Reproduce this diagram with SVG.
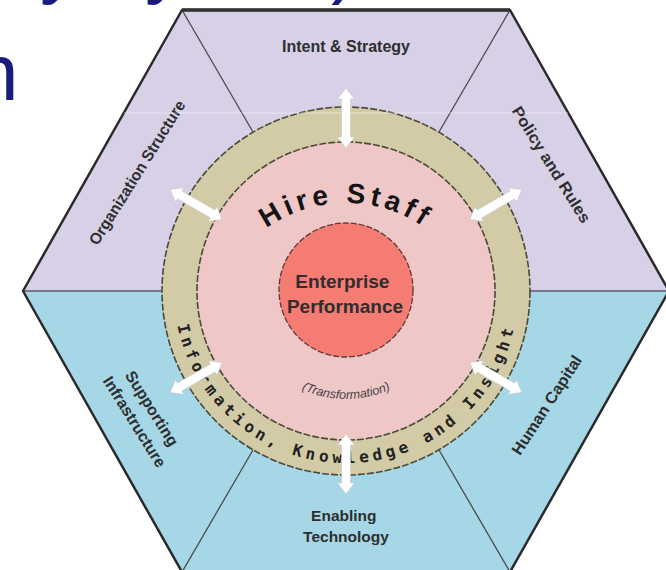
<svg xmlns="http://www.w3.org/2000/svg" width="666" height="570" viewBox="0 0 666 570">
<defs>
<style>
.lbl{font-family:"Liberation Sans",Arial,sans-serif;font-weight:bold;fill:#2e2e2e;}
.div{stroke:#4a4a4a;stroke-width:1.3;fill:none;}
.title{font-family:"Liberation Sans",Arial,sans-serif;fill:#1b1b7e;font-size:80px;}
.edge{stroke:#4a4a3a;stroke-width:1.6;stroke-dasharray:7 2;}
.tan{fill:#d3cba6;}
.pink{fill:#f0c7c7;}
.arr{fill:#ffffff;stroke:#c8c8c8;stroke-width:0.6;}
</style>
<path id="arcHire" d="M 249.1 243.1 A 137 137 0 0 1 442.9 243.1"/>
<path id="arcInfo" d="M 184.4 232.2 A 172 172 0 1 0 507.6 232.2"/>
<path id="arcTrans" d="M 252.5 345 A 108 108 0 0 0 439.5 345"/>
<polygon id="arrow" points="-30,0 -19,-8.5 -19,-4.5 19,-4.5 19,-8.5 30,0 19,8.5 19,4.5 -19,4.5 -19,8.5"/>
</defs>

<g id="title-fragments">
<text class="title" y="-12"><tspan x="40">y</tspan><tspan x="145">y</tspan><tspan x="331">)</tspan></text>
<text class="title" x="-26" y="100">n</text>
</g>

<g id="hexagon">
<polygon points="23,291 182,10 510,10 669,291" fill="#d7d0e7"/>
<polygon points="23,291 669,291 510,572 182,572" fill="#a6d7e7"/>
<line x1="23" y1="291" x2="162" y2="291" stroke="#5a5a6a" stroke-width="1.5"/>
<line x1="530" y1="291" x2="669" y2="291" stroke="#5a5a6a" stroke-width="1.5"/>
<line class="div" x1="182" y1="10" x2="253" y2="132"/>
<line class="div" x1="510" y1="10" x2="439" y2="132"/>
<line class="div" x1="182" y1="572" x2="253" y2="450"/>
<line class="div" x1="510" y1="572" x2="439" y2="450"/>
<polyline points="182,572 23,291 182,10 510,10 669,291 510,572" fill="none" stroke="#2a2a2a" stroke-width="2.5" stroke-linejoin="round"/>
<line x1="182" y1="10" x2="510" y2="10" stroke="#333" stroke-width="3.5"/>
</g>

<g id="seg-intent">
<text class="lbl" x="346" y="51.5" font-size="16" text-anchor="middle" textLength="128" lengthAdjust="spacingAndGlyphs">Intent &amp; Strategy</text>
</g>
<g id="seg-policy">
<text class="lbl" font-size="16" text-anchor="middle" transform="translate(551.5 164.5) rotate(58)" y="5.7" textLength="134" lengthAdjust="spacingAndGlyphs">Policy and Rules</text>
</g>
<g id="seg-org">
<text class="lbl" font-size="16" text-anchor="middle" transform="translate(137 172.5) rotate(-58)" y="5.7" textLength="167" lengthAdjust="spacingAndGlyphs">Organization Structure</text>
</g>
<g id="seg-support">
<text class="lbl" font-size="16" text-anchor="middle" transform="translate(144 416) rotate(58)">
<tspan x="0" y="-5.2">Supporting</tspan>
<tspan x="0" y="16.6">Infrastructure</tspan>
</text>
</g>
<g id="seg-human">
<text class="lbl" font-size="16" text-anchor="middle" transform="translate(546.5 405) rotate(-57)" y="5.7" textLength="115" lengthAdjust="spacingAndGlyphs">Human Capital</text>
</g>
<g id="seg-enabling">
<text class="lbl" font-size="15.5" text-anchor="middle">
<tspan x="346" y="521">Enabling</tspan>
<tspan x="346" y="542">Technology</tspan>
</text>
</g>

<g id="ring-info">
<circle cx="346" cy="291" r="184" class="tan edge"/>
<text font-family="'DejaVu Sans Mono',monospace" font-weight="bold" font-size="16" fill="#222" letter-spacing="4.2">
<textPath href="#arcInfo" startOffset="50%" text-anchor="middle">Information, Knowledge and Insight</textPath>
</text>
</g>

<g id="ring-hire">
<circle cx="346" cy="291" r="149" class="pink edge"/>
<text font-family="'Liberation Sans',Arial,sans-serif" font-weight="bold" font-size="28" fill="#141414" letter-spacing="4.5">
<textPath href="#arcHire" startOffset="50%" text-anchor="middle">Hire Staff</textPath>
</text>
<text font-family="'Liberation Sans',Arial,sans-serif" font-style="italic" font-size="12.5" fill="#454545">
<textPath href="#arcTrans" startOffset="50%" text-anchor="middle">(Transformation)</textPath>
</text>
</g>

<g id="core">
<circle cx="346" cy="290" r="67" fill="#f47c72" stroke="#5a3a3a" stroke-width="1.3" stroke-dasharray="6 2"/>
<text class="lbl" font-size="19" fill="#222" text-anchor="middle">
<tspan x="345" y="288">Enterprise</tspan>
<tspan x="345" y="313">Performance</tspan>
</text>
</g>

<g id="connectors">
<use href="#arrow" class="arr" transform="translate(346 291) rotate(-90) translate(173 0)"/>
<use href="#arrow" class="arr" transform="translate(346 291) rotate(-150) translate(173 0)"/>
<use href="#arrow" class="arr" transform="translate(346 291) rotate(-30) translate(173 0)"/>
<use href="#arrow" class="arr" transform="translate(346 291) rotate(150) translate(173 0)"/>
<use href="#arrow" class="arr" transform="translate(346 291) rotate(30) translate(173 0)"/>
<use href="#arrow" class="arr" transform="translate(346 291) rotate(90) translate(173 0)"/>
</g>

<line x1="124" y1="113" x2="568" y2="113" stroke="#ffffff" stroke-opacity="0.45" stroke-width="1"/>
</svg>
